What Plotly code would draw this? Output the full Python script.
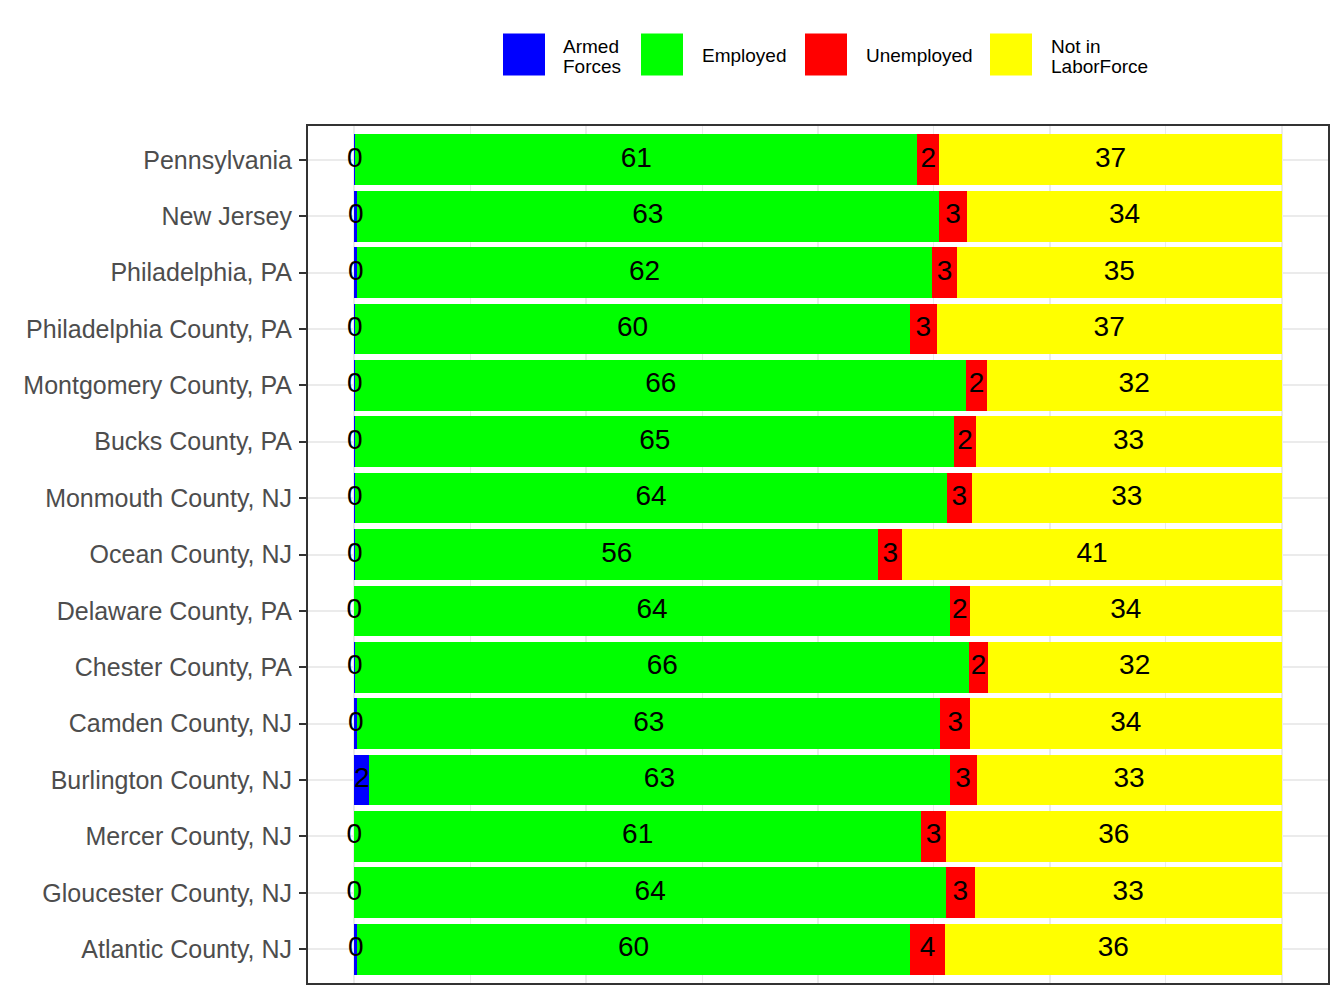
import plotly.graph_objects as go

regions = [
    "Pennsylvania", "New Jersey", "Philadelphia, PA", "Philadelphia County, PA",
    "Montgomery County, PA", "Bucks County, PA", "Monmouth County, NJ",
    "Ocean County, NJ", "Delaware County, PA", "Chester County, PA",
    "Camden County, NJ", "Burlington County, NJ", "Mercer County, NJ",
    "Gloucester County, NJ", "Atlantic County, NJ",
]
armed_forces = [0.1, 0.3, 0.3, 0.1, 0.1, 0.1, 0.1, 0.1, 0.0, 0.1, 0.3, 1.6, 0.0, 0.0, 0.3]
employed = [60.6, 62.7, 62.0, 59.8, 65.9, 64.6, 63.8, 56.4, 64.2, 66.2, 62.9, 62.6, 61.1, 63.8, 59.6]
unemployed = [2.4, 3.1, 2.7, 2.9, 2.2, 2.3, 2.7, 2.6, 2.2, 2.0, 3.2, 2.9, 2.7, 3.1, 3.8]
not_in_laborforce = [36.9, 33.9, 35.0, 37.2, 31.8, 33.0, 33.4, 40.9, 33.6, 31.7, 33.6, 32.9, 36.2, 33.1, 36.3]

series_names = ["Armed Forces", "Employed", "Unemployed", "Not in LaborForce"]
legend_lines = [["Armed", "Forces"], ["Employed"], ["Unemployed"], ["Not in", "LaborForce"]]
series_values = [armed_forces, employed, unemployed, not_in_laborforce]
series_colors = ["#0000FF", "#00FF00", "#FF0000", "#FFFF00"]

W, H = 1344, 1008
ML, MR, MT, MB = 308, 16, 126, 25
PW, PH = W - ML - MR, H - MT - MB


def px_x(p):
    return (p - ML) / PW


def px_y(p):
    return (H - MB - p) / PH


fig = go.Figure()

# stacked bars
for name, vals, col in zip(series_names, series_values, series_colors):
    fig.add_trace(go.Bar(
        y=regions, x=vals, name=name, orientation="h",
        marker=dict(color=col, line=dict(width=0)),
        showlegend=False, hoverinfo="x+y+name",
    ))

# labels at the middle of each segment
cum = [0.0] * len(regions)
for vals in series_values:
    centers = [c + v / 2 for c, v in zip(cum, vals)]
    cum = [c + v for c, v in zip(cum, vals)]
    fig.add_trace(go.Scatter(
        x=centers, y=regions, mode="text",
        text=[f"{v:.0f}" for v in vals],
        textposition="middle center",
        textfont=dict(family="Liberation Sans, Arial, sans-serif", size=28, color="black"),
        showlegend=False, hoverinfo="skip", cliponaxis=False,
    ))

# custom legend (large square keys, as in the reference)
key_left = [503, 641, 805, 990]
text_left = [561, 700, 864, 1049]
shapes = []
annotations = []
for i, col in enumerate(series_colors):
    shapes.append(dict(
        type="rect", xref="paper", yref="paper",
        x0=px_x(key_left[i]), x1=px_x(key_left[i] + 42),
        y0=px_y(75.5), y1=px_y(33.5),
        fillcolor=col, line=dict(width=0), layer="above",
    ))
    lines = legend_lines[i]
    ys = [56] if len(lines) == 1 else [46.5, 66]
    for ln, yy in zip(lines, ys):
        annotations.append(dict(
            xref="paper", yref="paper", x=px_x(text_left[i]), y=px_y(yy),
            text=ln, showarrow=False, xanchor="left", yanchor="middle",
            font=dict(family="Liberation Sans, Arial, sans-serif", size=19, color="black"),
        ))

fig.update_layout(
    width=W, height=H,
    margin=dict(l=ML, r=MR, t=MT, b=MB, pad=0),
    barmode="stack", bargap=0.1,
    paper_bgcolor="white", plot_bgcolor="white",
    showlegend=False,
    shapes=shapes, annotations=annotations,
    font=dict(family="Liberation Sans, Arial, sans-serif"),
)
fig.update_xaxes(
    range=[-5, 105], tickvals=[0, 25, 50, 75, 100], showticklabels=False, ticks="",
    showgrid=True, gridcolor="#EBEBEB", gridwidth=2, zeroline=False,
    minor=dict(tickvals=[12.5, 37.5, 62.5, 87.5], showgrid=True, gridcolor="#EBEBEB", gridwidth=1, ticks=""),
    showline=True, mirror=True, linecolor="#333333", linewidth=2,
)
fig.update_yaxes(
    type="category", categoryorder="array", categoryarray=regions,
    range=[len(regions) - 0.4, -0.6],
    showgrid=True, gridcolor="#EBEBEB", gridwidth=2, zeroline=False,
    ticks="outside", ticklen=7, tickwidth=2, tickcolor="#333333",
    tickfont=dict(family="Liberation Sans, Arial, sans-serif", size=25, color="#4D4D4D"),
    ticklabelstandoff=2,
    showline=True, mirror=True, linecolor="#333333", linewidth=2,
)

fig.write_html(
    "out.html",
    config={"displayModeBar": False},
    post_script="document.body.style.margin='0';document.body.style.overflow='hidden';",
)
